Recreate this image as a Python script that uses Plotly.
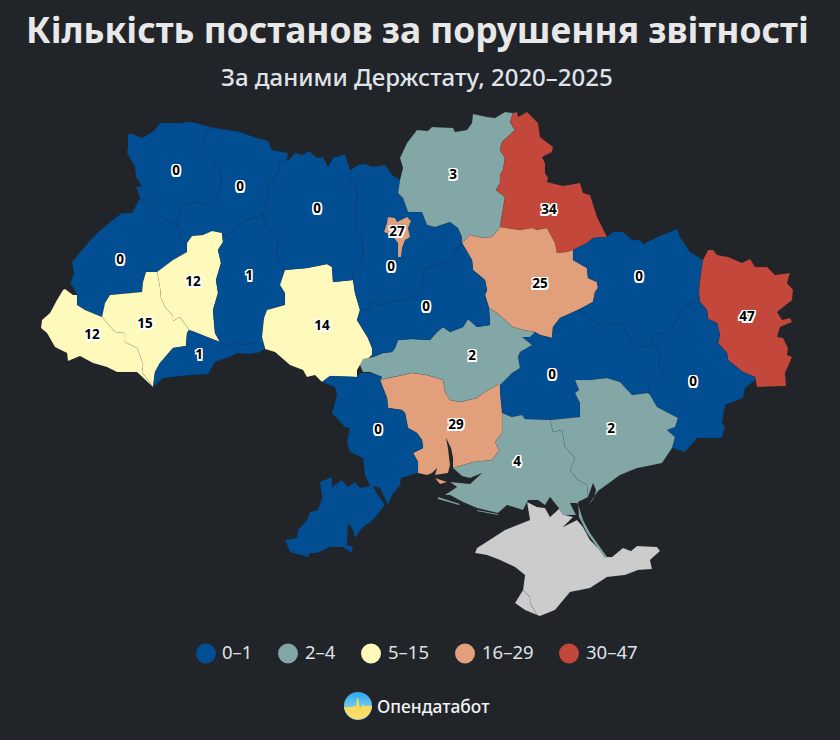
import base64
import plotly.graph_objects as go

TITLE = "Кількість постанов за порушення звітності"
SUBTITLE = "За даними Держстату, 2020–2025"
BRAND = "Опендатабот"

BIN_LABELS = ["0–1", "2–4", "5–15", "16–29", "30–47"]
BIN_TOPS = [1, 4, 15, 29, 47]
BIN_COLORS = ["#014e92", "#83a6a6", "#fff9bb", "#e19f7b", "#c3473a"]
NO_DATA_COLOR = "#cccccc"
BG = "#212529"

REGION_NAMES = ["Волинська", "Рівненська", "Львівська", "Закарпатська", "Івано-Франківська",
                "Тернопільська", "Чернівецька", "Хмельницька", "Вінницька", "Житомирська",
                "Київська", "м. Київ", "Чернігівська", "Сумська", "Полтавська", "Харківська",
                "Луганська", "Донецька", "Дніпропетровська", "Запорізька", "Херсонська",
                "Миколаївська", "Кіровоградська", "Черкаська", "Одеська"]
VALUES = [0, 0, 0, 12, 15, 12, 1, 1, 14, 0, 0, 27, 3, 34, 25, 0, 47, 0, 0, 2, 4, 29, 2, 0, 0]
LABEL_X = [176, 240, 120, 92, 145, 193, 199, 249, 322, 317, 391, 397, 453, 549, 540, 639, 747, 693, 552, 611, 517, 456, 472, 426, 378]
LABEL_Y = [172, 188, 261, 336, 325, 283, 356, 277, 327, 210, 268, 233, 176, 211, 285, 278, 318, 383, 376, 430, 463, 426, 357, 308, 431]
LEGEND_MARK_X = [206, 288, 371, 465, 569]
LEGEND_TEXT_X = [222, 305, 388, 482, 586]
LEGEND_Y = 653.5

OUTLINES = {
"Волинська": [[(210,127),(192,122),(177,123),(160,123),(154,131),(142,138),(133,134),(128,134),(128,147),(127,153),(135,167),(136,177),(142,186),(136,187),(140,198),(154,207),(154,213),(170,222),(178,225),(178,215),(182,208),(190,203),(202,202),(210,206),(217,195),(222,187),(221,173),(212,160),(203,157),(203,138)]],
"Рівненська": [[(210,127),(240,132),(257,138),(268,141),(272,150),(288,153),(287,160),(280,163),(278,172),(268,187),(267,202),(263,215),(247,220),(237,228),(225,237),(222,233),(212,231),(203,235),(192,236),(187,243),(181,238),(178,225),(178,215),(182,208),(190,203),(202,202),(210,206),(217,195),(222,187),(221,173),(212,160),(203,157),(203,138)]],
"Львівська": [[(140,198),(135,207),(132,213),(122,213),(110,222),(93,237),(80,252),(72,262),(74,273),(70,285),(72,285),(77,295),(77,305),(85,310),(102,317),(105,303),(110,295),(142,292),(143,282),(146,272),(157,272),(173,260),(187,252),(187,243),(181,238),(178,225),(170,222),(154,213),(154,207)]],
"Закарпатська": [[(77,295),(73,295),(65,289),(63,290),(57,300),(50,313),(42,320),(41,328),(47,333),(55,347),(67,353),(68,361),(80,356),(93,363),(107,367),(117,372),(137,372),(150,385),(153,387),(142,372),(143,365),(140,355),(137,348),(125,342),(125,333),(115,332),(102,317),(85,310),(77,305)]],
"Івано-Франківська": [[(102,317),(105,303),(110,295),(142,292),(143,282),(146,272),(157,272),(160,287),(161,298),(165,307),(173,316),(173,321),(180,317),(189,330),(187,333),(186,346),(173,348),(160,363),(155,372),(153,387),(142,372),(143,365),(140,355),(137,348),(125,342),(125,333),(115,332)]],
"Тернопільська": [[(157,272),(173,260),(187,252),(187,243),(192,236),(203,235),(212,231),(222,233),(223,242),(218,250),(221,263),(216,280),(218,293),(213,310),(214,323),(215,333),(220,342),(207,337),(195,332),(189,330),(180,317),(173,321),(173,316),(165,307),(161,298),(160,287)]],
"Чернівецька": [[(189,330),(195,332),(207,337),(220,342),(227,347),(237,340),(243,345),(257,342),(265,348),(265,349),(257,353),(247,354),(237,353),(232,356),(215,362),(208,374),(190,375),(163,378),(153,387),(155,372),(160,363),(173,348),(186,346),(187,333)]],
"Хмельницька": [[(263,215),(265,225),(278,240),(277,257),(285,270),(280,285),(285,293),(285,305),(277,307),(267,310),(264,318),(262,337),(265,348),(257,342),(243,345),(237,340),(227,347),(220,342),(215,333),(214,323),(213,310),(218,293),(216,280),(221,263),(218,250),(223,242),(222,233),(225,237),(237,228),(247,220)]],
"Вінницька": [[(285,270),(307,268),(327,264),(332,267),(333,282),(353,280),(355,293),(360,310),(357,320),(368,338),(372,348),(372,355),(360,365),(357,370),(357,377),(330,376),(322,382),(315,375),(307,377),(303,370),(290,365),(275,352),(265,349),(265,348),(262,337),(264,318),(267,310),(277,307),(285,305),(285,293),(280,285)]],
"Житомирська": [[(287,160),(289,160),(295,153),(302,155),(309,151),(317,158),(323,157),(328,167),(333,158),(345,154),(350,170),(350,178),(358,190),(355,223),(362,240),(363,260),(352,275),(353,280),(333,282),(332,267),(327,264),(307,268),(285,270),(277,257),(278,240),(265,225),(263,215),(267,202),(268,187),(278,172),(280,163)]],
"Київська": [[(350,170),(358,165),(365,164),(373,167),(385,165),(392,175),(400,180),(398,193),(403,198),(408,212),(422,212),(427,225),(435,227),(450,222),(458,228),(462,237),(462,243),(460,245),(453,255),(445,263),(430,267),(425,268),(422,288),(413,298),(390,302),(385,305),(372,303),(367,310),(360,310),(355,293),(353,280),(352,275),(363,260),(362,240),(355,223),(358,190),(350,178)]],
"м. Київ": [[(388,217),(395,218),(397,222),(407,217),(411,221),(408,228),(410,237),(405,240),(402,248),(401,257),(398,257),(398,243),(392,235),(384,232),(387,223)]],
"Чернігівська": [[(400,180),(403,168),(400,158),(407,143),(417,130),(428,131),(432,127),(453,128),(455,132),(467,130),(472,123),(473,114),(487,117),(495,118),(505,112),(513,113),(510,122),(515,130),(502,142),(500,150),(505,158),(503,170),(500,175),(500,183),(496,190),(505,197),(502,215),(500,227),(492,237),(483,238),(470,235),(462,243),(462,237),(458,228),(450,222),(435,227),(427,225),(422,212),(408,212),(403,198),(398,193)]],
"Сумська": [[(513,113),(517,112),(518,117),(527,112),(538,123),(540,137),(553,147),(552,152),(542,157),(545,163),(545,173),(548,178),(547,182),(563,186),(580,183),(583,193),(590,195),(597,217),(607,237),(593,238),(587,243),(573,250),(567,252),(557,253),(555,243),(547,228),(537,230),(532,228),(520,230),(500,227),(502,215),(505,197),(496,190),(500,183),(500,175),(503,170),(505,158),(500,150),(502,142),(515,130),(510,122)]],
"Полтавська": [[(462,243),(470,235),(483,238),(492,237),(500,227),(520,230),(532,228),(537,230),(547,228),(555,243),(557,253),(567,252),(573,250),(573,260),(587,268),(588,278),(597,282),(598,288),(595,292),(593,302),(578,310),(560,318),(553,327),(552,338),(540,335),(535,332),(523,330),(513,327),(497,313),(489,308),(485,295),(487,290),(485,280),(473,270),(472,260)]],
"Харківська": [[(573,250),(587,243),(593,238),(607,237),(613,232),(623,232),(632,240),(640,240),(643,244),(660,236),(677,229),(680,237),(690,252),(703,260),(700,280),(699,292),(700,302),(688,305),(682,310),(675,323),(667,333),(653,335),(653,345),(640,347),(637,350),(628,335),(622,323),(607,325),(600,325),(587,315),(578,310),(593,302),(595,292),(598,288),(597,282),(588,278),(587,268),(573,260)]],
"Луганська": [[(703,260),(708,250),(713,250),(717,255),(728,257),(742,263),(750,259),(755,267),(767,267),(775,275),(790,273),(787,283),(793,290),(792,300),(777,312),(782,320),(790,318),(792,322),(780,327),(777,337),(783,338),(788,348),(787,355),(792,357),(785,373),(786,386),(757,387),(755,377),(743,372),(728,360),(727,353),(718,343),(720,335),(717,323),(708,319),(707,310),(700,302),(699,292),(700,280)]],
"Донецька": [[(700,302),(707,310),(708,319),(717,323),(720,335),(718,343),(727,353),(728,360),(743,372),(755,377),(755,380),(745,388),(743,398),(725,405),(722,423),(725,427),(722,438),(697,438),(685,452),(677,450),(672,448),(675,437),(667,430),(675,427),(678,418),(657,407),(650,395),(648,393),(650,380),(660,380),(663,370),(658,365),(660,355),(657,347),(653,345),(653,335),(667,333),(675,323),(682,310),(688,305)]],
"Дніпропетровська": [[(578,310),(587,315),(600,325),(607,325),(622,323),(628,335),(637,350),(640,347),(653,345),(657,347),(660,355),(658,365),(663,370),(660,380),(650,380),(648,393),(632,395),(620,382),(607,378),(590,380),(575,380),(579,390),(575,393),(580,403),(580,417),(550,420),(525,419),(522,415),(512,417),(502,413),(500,393),(500,385),(512,373),(520,368),(518,357),(520,352),(532,345),(522,337),(530,337),(535,332),(540,335),(552,338),(553,327),(560,318)]],
"Запорізька": [[(575,380),(590,380),(607,378),(620,382),(632,395),(648,393),(650,395),(657,407),(678,418),(675,427),(667,430),(675,437),(672,448),(665,458),(662,463),(643,467),(637,468),(620,475),(603,487),(598,491),(587,507),(594,498),(596,490),(593,483),(588,497),(587,485),(578,480),(570,470),(575,458),(565,447),(562,430),(553,432),(550,420),(580,417),(580,403),(575,393),(579,390)]],
"Херсонська": [[(502,413),(512,417),(522,415),(525,419),(550,420),(553,432),(562,430),(565,447),(575,458),(570,470),(578,480),(587,485),(588,497),(578,502),(579,517),(587,533),(605,558),(607,557),(590,533),(583,520),(579,507),(577,503),(570,503),(576,515),(563,515),(558,507),(550,497),(545,505),(538,500),(528,500),(523,510),(507,505),(498,513),(477,508),(463,502),(450,495),(445,495),(457,487),(450,482),(470,484),(482,473),(470,478),(462,476),(453,468),(473,462),(492,460),(499,450),(495,442),(502,433)],
                 [(438,497),(460,504),(459,505),(438,499)], [(477,510),(498,514),(498,515),(477,511)]],
"Миколаївська": [[(380,380),(393,377),(412,373),(427,375),(443,380),(445,392),(450,400),(460,402),(477,398),(483,393),(497,385),(500,385),(500,393),(502,413),(502,433),(495,442),(499,450),(492,460),(473,462),(453,468),(453,458),(451,448),(446,438),(448,448),(450,465),(448,473),(435,475),(437,468),(432,473),(427,475),(418,473),(418,462),(413,453),(423,448),(422,440),(417,433),(408,428),(405,413),(402,410),(388,408),(387,398),(383,388)],
                   [(435,478),(447,482),(440,484)]],
"Кіровоградська": [[(360,365),(363,359),(373,357),(383,353),(392,352),(395,348),(398,340),(412,339),(430,340),(437,332),(443,327),(450,332),(463,327),(468,319),(477,327),(490,325),(489,308),(497,313),(513,327),(523,330),(535,332),(530,337),(522,337),(532,345),(520,352),(518,357),(520,368),(512,373),(500,385),(497,385),(483,393),(477,398),(460,402),(450,400),(445,392),(443,380),(427,375),(412,373),(393,377),(380,380),(382,377),(372,373),(370,372),(363,372)]],
"Черкаська": [[(360,310),(367,310),(372,303),(385,305),(390,302),(413,298),(422,288),(425,268),(430,267),(445,263),(453,255),(460,245),(462,243),(472,260),(473,270),(485,280),(487,290),(485,295),(489,308),(490,325),(477,327),(468,319),(463,327),(450,332),(443,327),(437,332),(430,340),(412,339),(398,340),(395,348),(392,352),(383,353),(373,357),(372,355),(372,348),(368,338),(357,320)]],
"Одеська": [[(322,382),(330,376),(357,377),(360,373),(372,373),(382,377),(380,380),(383,388),(387,398),(388,408),(402,410),(405,413),(408,428),(417,433),(422,440),(423,448),(413,453),(418,462),(418,473),(401,478),(400,485),(392,495),(388,505),(387,503),(380,488),(373,486),(378,495),(385,505),(373,520),(362,528),(355,538),(353,530),(348,523),(347,545),(353,547),(350,560),(352,553),(343,547),(330,547),(317,553),(310,553),(308,557),(290,552),(285,540),(297,538),(298,530),(307,520),(310,512),(318,510),(322,498),(320,482),(332,477),(332,487),(342,480),(348,487),(355,482),(360,488),(370,486),(365,475),(363,458),(350,452),(347,442),(350,428),(345,427),(332,413),(337,395),(335,387)]],
}
CRIMEA = [(527,502),(530,520),(505,530),(492,538),(477,548),(475,553),(487,555),(500,560),(515,567),(525,575),(523,590),(530,597),(530,603),(537,615),(540,616),(555,610),(570,592),(590,588),(607,577),(625,575),(638,570),(652,569),(650,560),(660,551),(657,547),(637,546),(631,551),(623,548),(612,557),(607,557),(590,540),(583,527),(577,520),(563,527),(573,517),(565,515),(560,508),(550,517),(545,508),(537,507)]
SEVASTOPOL = [(523,590),(530,597),(530,603),(537,615),(525,610),(515,603)]


def bin_of(v):
    return next(i for i, top in enumerate(BIN_TOPS) if v <= top)


def ring_xy(rings):
    xs, ys = [], []
    for ring in rings:
        closed = list(ring) + [ring[0]]
        xs += [p[0] for p in closed] + [None]
        ys += [p[1] for p in closed] + [None]
    return xs, ys


fig = go.Figure()
EDGE = "rgba(33,37,41,0.15)"

for name, rings in [("АР Крим", [CRIMEA]), ("м. Севастополь", [SEVASTOPOL])]:
    x, y = ring_xy(rings)
    fig.add_trace(go.Scatter(x=x, y=y, mode="lines", fill="toself", fillcolor=NO_DATA_COLOR, name=name,
                             line=dict(color="rgba(33,37,41,0.25)", width=0.5),
                             showlegend=False, hoverinfo="name"))

order = sorted(range(len(REGION_NAMES)), key=lambda i: REGION_NAMES[i] == "м. Київ")
for i in order:
    x, y = ring_xy(OUTLINES[REGION_NAMES[i]])
    fig.add_trace(go.Scatter(x=x, y=y, mode="lines", fill="toself",
                             fillcolor=BIN_COLORS[bin_of(VALUES[i])], name=REGION_NAMES[i],
                             line=dict(color=EDGE, width=0.5), showlegend=False,
                             hoverinfo="name+text", text=str(VALUES[i])))

halo = ",".join(f"{dx}px {dy}px 0 #fff" for dx in (-1.5, 0, 1.5) for dy in (-1.5, 0, 1.5) if dx or dy)
fig.add_trace(go.Scatter(x=LABEL_X, y=LABEL_Y, mode="text", text=[str(v) for v in VALUES],
                         textposition="middle center", showlegend=False, hoverinfo="skip",
                         textfont=dict(family="Noto Sans", size=13.5, color="#000000", weight=700, shadow=halo)))

fig.add_trace(go.Scatter(x=LEGEND_MARK_X, y=[LEGEND_Y] * len(BIN_LABELS), mode="markers",
                         marker=dict(size=20, color=BIN_COLORS, line=dict(width=0)),
                         showlegend=False, hoverinfo="skip"))
fig.add_trace(go.Scatter(x=LEGEND_TEXT_X, y=[LEGEND_Y + 1] * len(BIN_LABELS), mode="text", text=BIN_LABELS,
                         textposition="middle right", showlegend=False, hoverinfo="skip",
                         textfont=dict(family="Noto Sans", size=18.5, color="#dfe3e8")))

logo_svg = """<svg xmlns='http://www.w3.org/2000/svg' viewBox='0 0 28 28'>
<defs><linearGradient id='a' x1='0' y1='0' x2='0' y2='1'><stop offset='0' stop-color='#2aa7ee'/><stop offset='.48' stop-color='#6cc6ee'/></linearGradient>
<linearGradient id='b' x1='0' y1='0' x2='0' y2='1'><stop offset='0' stop-color='#f6d659'/><stop offset='1' stop-color='#fedd6b'/></linearGradient></defs>
<circle cx='14' cy='14' r='14' fill='url(#a)'/>
<path d='M0.1 15 L8 15 L10.5 13.5 L12 14.5 L13 6 L14 6 L15.5 14 L17 15.5 L19 12.5 L20.5 14 L28 13.8 A14 14 0 0 1 0.1 15 Z' fill='url(#b)'/>
</svg>"""
logo_uri = "data:image/svg+xml;base64," + base64.b64encode(logo_svg.encode()).decode()

fig.update_layout(
    width=840, height=740, autosize=False,
    margin=dict(l=0, r=0, t=0, b=0),
    paper_bgcolor=BG, plot_bgcolor=BG,
    font=dict(family="Noto Sans", color="#e6e6e6"),
    title=dict(text=f"<b>{TITLE}</b>", x=417.5 / 840, xanchor="center", xref="paper", y=1 - 31 / 740,
               yanchor="middle", yref="container", font=dict(family="Noto Sans", size=35.4, color="#e8e8e8")),
    xaxis=dict(range=[0, 840], visible=False, fixedrange=True),
    yaxis=dict(range=[740, 0], visible=False, fixedrange=True),
    showlegend=False,
    annotations=[
        dict(text=SUBTITLE, xref="paper", yref="paper", x=416.5 / 840, y=1 - 76.5 / 740, xanchor="center",
             yanchor="middle", showarrow=False, font=dict(family="Noto Sans", size=24, color="#dfe3e8", weight=500)),
        dict(text=BRAND, xref="paper", yref="paper", x=374.5 / 840, y=1 - 706 / 740, xanchor="left",
             yanchor="middle", showarrow=False, font=dict(family="Noto Sans", size=17.4, color="#f2f2f2", weight=500)),
    ],
    images=[dict(source=logo_uri, xref="paper", yref="paper", x=344 / 840, y=1 - 692 / 740,
                 sizex=28 / 840, sizey=28 / 740, xanchor="left", yanchor="top", layer="above")],
)

fig.write_html("out.html", config={"displayModeBar": False},
               post_script=f"document.body.style.margin='0';document.body.style.background='{BG}';")
